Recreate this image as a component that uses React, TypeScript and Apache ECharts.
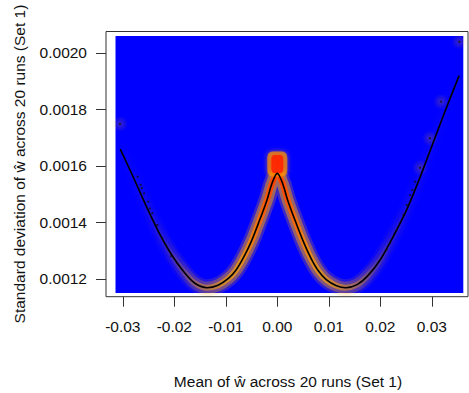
import React, { useEffect, useRef } from "react";
import * as echarts from "echarts";

// ---- data ----
const curveX = [
  -0.0305, -0.028, -0.0255, -0.023, -0.0205, -0.018, -0.016, -0.0136, -0.0115, -0.0095,
  -0.008, -0.0065, -0.005, -0.0035, -0.002, -0.001, 0, 0.001, 0.002, 0.0035, 0.005,
  0.0065, 0.008, 0.0095, 0.0115, 0.0133, 0.0155, 0.0175, 0.02, 0.0225, 0.025, 0.0275,
  0.03, 0.0325, 0.0353,
];
const curveY = [
  0.00166, 0.001562, 0.00146, 0.001365, 0.001285, 0.001222, 0.001185, 0.001169, 0.001178,
  0.001202, 0.001232, 0.001278, 0.001335, 0.001405, 0.00148, 0.00154, 0.001574, 0.00154,
  0.00148, 0.001405, 0.001335, 0.001275, 0.001228, 0.001198, 0.001176, 0.001169, 0.00118,
  0.00121, 0.001268, 0.00135, 0.00144, 0.00155, 0.00167, 0.00179, 0.00192,
];

// relative density of points along the curve (smoothScatter colouring)
const densityX = [
  -0.0305, -0.026, -0.022, -0.0185, -0.016, -0.0136, -0.011, -0.007, -0.003, 0, 0.003,
  0.007, 0.011, 0.0133, 0.016, 0.0185, 0.022, 0.026, 0.0353,
];
const densityLevel = [
  0, 0.04, 0.1, 0.25, 0.42, 0.55, 0.7, 0.85, 0.95, 1, 0.95, 0.85, 0.7, 0.55, 0.42, 0.25,
  0.1, 0.04, 0,
];
const peakRedX = [-0.008, -0.005, -0.0025, 0, 0.0025, 0.005, 0.008];
const peakRedLevel = [0, 0.2, 0.5, 0.8, 0.5, 0.2, 0];
const peakCluster = [[0, 0.001607]];

// isolated points drawn by smoothScatter
const outlierX = [
  -0.02711, -0.02652, -0.02633, -0.02588, -0.02505, -0.02472, -0.02427, -0.0233, -0.02233,
  -0.02167, -0.02064, 0.02674, 0.02622, 0.02577, 0.02513, 0.02447, 0.02318, 0.02252,
  0.02188, 0.02124,
];
const outlierY = [
  0.001562, 0.001533, 0.001522, 0.001503, 0.001474, 0.00145, 0.001433, 0.001391, 0.001344,
  0.00132, 0.001281, 0.001544, 0.001515, 0.001497, 0.001462, 0.001427, 0.001373, 0.00135,
  0.001326, 0.001303,
];
const haloX = [-0.03054, 0.03534, 0.03179, 0.02965, 0.02771];
const haloY = [0.001749, 0.00204, 0.001828, 0.001698, 0.001594];

const xTicks = [-0.03, -0.02, -0.01, 0, 0.01, 0.02, 0.03];
const yTicks = [0.0012, 0.0014, 0.0016, 0.0018, 0.002];
const xRange = [-0.033262, 0.037029];
const yRange = [0.0011373, 0.0020761];
const imageXRange = [-0.031417, 0.036117];
const imageYRange = [0.0011504, 0.0020602];

const xTitle = "Mean of ŵ across 20 runs (Set 1)";
const yTitle = "Standard deviation of ŵ across 20 runs (Set 1)";

const FONT = "'Liberation Sans', Arial, Helvetica, sans-serif";

function alongCurveGradient(rgb: string, xs: number[], levels: number[], factor: number) {
  const x0 = curveX[0];
  const x1 = curveX[curveX.length - 1];
  const stops = xs.map((x, i) => ({
    offset: Math.min(1, Math.max(0, (x - x0) / (x1 - x0))),
    color: `rgba(${rgb},${(levels[i] * factor).toFixed(3)})`,
  }));
  return new echarts.graphic.LinearGradient(0, 0, 1, 0, stops);
}

export default function App() {
  const ref = useRef<HTMLDivElement>(null);

  useEffect(() => {
    if (!ref.current) return;
    const chart = echarts.init(ref.current, null, { renderer: "svg" });
    const curve = curveX.map((x, i) => [x, curveY[i]]);
    const outliers = outlierX.map((x, i) => [x, outlierY[i]]);
    const halos = haloX.map((x, i) => [x, haloY[i]]);

    const glow = (width: number, factor: number, z: number, rgb = "255,165,0", xs = densityX, lv = densityLevel) => ({
      type: "line",
      data: curve,
      smooth: 0.3,
      symbol: "none",
      silent: true,
      z,
      lineStyle: {
        width,
        cap: "round",
        join: "round",
        color: alongCurveGradient(rgb, xs, lv, factor),
      },
    });

    chart.setOption({
      animation: false,
      backgroundColor: "#ffffff",
      grid: {
        left: 106,
        right: 1,
        top: 31.5,
        bottom: 96.3,
        show: true,
        borderColor: "#333",
        borderWidth: 1,
        backgroundColor: "transparent",
      },
      xAxis: {
        type: "value",
        min: xRange[0],
        max: xRange[1],
        axisLine: { show: false, onZero: false },
        axisTick: { show: true, customValues: xTicks, length: 10, lineStyle: { color: "#333", width: 1 } },
        axisLabel: {
          customValues: xTicks,
          formatter: (v: number) => v.toFixed(2),
          margin: 22,
          fontSize: 15.5,
          color: "#111",
          fontFamily: FONT,
        },
        splitLine: { show: false },
      },
      yAxis: {
        type: "value",
        min: yRange[0],
        max: yRange[1],
        axisLine: { show: false, onZero: false },
        axisTick: { show: true, customValues: yTicks, length: 10, lineStyle: { color: "#333", width: 1 } },
        axisLabel: {
          customValues: yTicks,
          formatter: (v: number) => v.toFixed(4),
          margin: 19,
          fontSize: 15.5,
          color: "#111",
          fontFamily: FONT,
        },
        splitLine: { show: false },
      },
      graphic: [
        {
          type: "text",
          x: 288,
          y: 381,
          style: {
            text: xTitle,
            fontSize: 15.5,
            fontFamily: FONT,
            fill: "#111",
            align: "center",
            verticalAlign: "middle",
          },
        },
        {
          type: "text",
          x: 19,
          y: 164,
          rotation: Math.PI / 2,
          style: {
            text: yTitle,
            fontSize: 15.5,
            fontFamily: FONT,
            fill: "#111",
            align: "center",
            verticalAlign: "middle",
          },
        },
      ],
      series: [
        {
          type: "custom",
          silent: true,
          z: 1,
          data: [[imageXRange[0], imageXRange[1], imageYRange[0], imageYRange[1]]],
          renderItem: (_p: any, api: any) => {
            const a = api.coord([api.value(0), api.value(3)]);
            const b = api.coord([api.value(1), api.value(2)]);
            return {
              type: "rect",
              shape: { x: a[0], y: a[1], width: b[0] - a[0], height: b[1] - a[1] },
              style: { fill: "#0000FF" },
            };
          },
        },
        glow(17, 0.25, 2),
        glow(12, 0.5, 2),
        glow(6, 0.85, 2),
        glow(6, 1, 2, "255,30,0", peakRedX, peakRedLevel),
        {
          type: "scatter",
          data: halos,
          symbolSize: 16,
          silent: true,
          z: 2,
          itemStyle: {
            color: new echarts.graphic.RadialGradient(0.5, 0.5, 0.5, [
              { offset: 0, color: "rgba(255,165,0,0.28)" },
              { offset: 1, color: "rgba(255,165,0,0)" },
            ]),
          },
        },
        {
          type: "scatter",
          data: peakCluster,
          symbol: "roundRect",
          symbolSize: [20, 25],
          silent: true,
          z: 3,
          itemStyle: { color: "rgba(255,150,0,0.85)", shadowBlur: 5, shadowColor: "rgba(255,165,0,0.8)" },
        },
        {
          type: "scatter",
          data: peakCluster,
          symbol: "roundRect",
          symbolSize: [12, 18],
          silent: true,
          z: 3,
          itemStyle: { color: "#FF1A00", shadowBlur: 5, shadowColor: "rgba(255,60,0,0.9)" },
        },
        {
          type: "line",
          data: curve,
          smooth: 0.3,
          symbol: "none",
          silent: true,
          z: 4,
          lineStyle: { width: 1.6, color: "#000" },
        },
        {
          type: "scatter",
          data: outliers.concat(halos),
          symbolSize: 2.2,
          silent: true,
          z: 5,
          itemStyle: { color: "#111" },
        },
      ],
    });
    return () => chart.dispose();
  }, []);

  return (
    <div
      ref={ref}
      style={{ position: "absolute", left: 0, top: 0, width: 469, height: 393, background: "#fff" }}
    />
  );
}
